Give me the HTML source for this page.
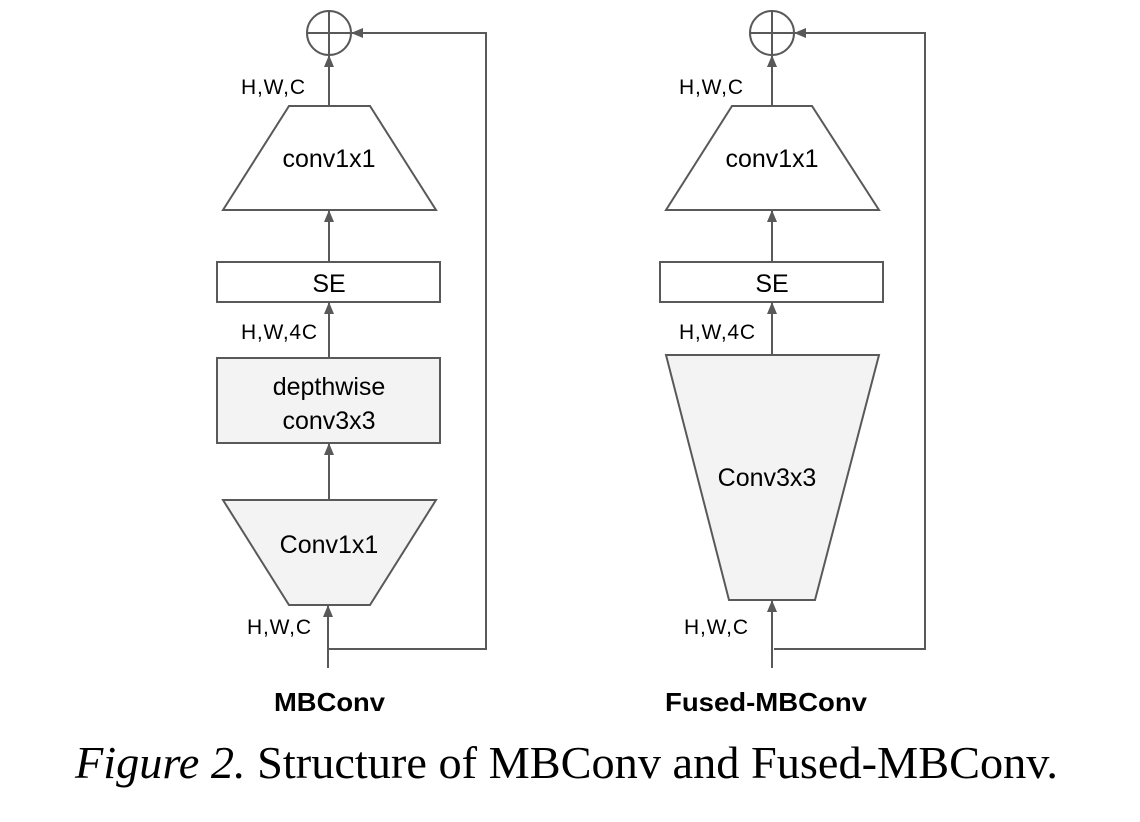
<!DOCTYPE html>
<html><head><meta charset="utf-8"><style>body{margin:0;background:#fff}svg{display:block}</style></head><body>
<svg width="1140" height="822" viewBox="0 0 1140 822" xmlns="http://www.w3.org/2000/svg">
<defs><marker id="a" markerWidth="12" markerHeight="10" refX="11" refY="5" orient="auto" markerUnits="userSpaceOnUse"><path d="M0,0 L12,5 L0,10 z" fill="#595959"/></marker></defs>
<g stroke="#595959" stroke-width="2" fill="none" font-family="Liberation Sans, sans-serif">
<!-- left -->
<circle cx="329" cy="33" r="22" fill="#fff"/>
<line x1="307" y1="33" x2="351" y2="33"/><line x1="329" y1="11" x2="329" y2="55"/>
<polyline points="328,649 486,649 486,33 352,33" marker-end="url(#a)"/>
<line x1="329" y1="106" x2="329" y2="56" marker-end="url(#a)"/>
<polygon points="289,106 370,106 436,210 223,210" fill="#fff"/>
<line x1="329" y1="262" x2="329" y2="211" marker-end="url(#a)"/>
<rect x="217" y="262" width="223" height="40" fill="#fff"/>
<line x1="329" y1="358" x2="329" y2="303" marker-end="url(#a)"/>
<rect x="217" y="358" width="223" height="85" fill="#f3f3f3"/>
<line x1="329" y1="500" x2="329" y2="444" marker-end="url(#a)"/>
<polygon points="223,500 436,500 370,605 289,605" fill="#f3f3f3"/>
<line x1="328" y1="668" x2="328" y2="606" marker-end="url(#a)"/>
<!-- right -->
<circle cx="772" cy="33" r="22" fill="#fff"/>
<line x1="750" y1="33" x2="794" y2="33"/><line x1="772" y1="11" x2="772" y2="55"/>
<polyline points="774,649 925,649 925,33 795,33" marker-end="url(#a)"/>
<line x1="772" y1="106" x2="772" y2="56" marker-end="url(#a)"/>
<polygon points="732,106 812,106 879,210 666,210" fill="#fff"/>
<line x1="772" y1="262" x2="772" y2="211" marker-end="url(#a)"/>
<rect x="660" y="262" width="223" height="40" fill="#fff"/>
<line x1="772" y1="355" x2="772" y2="303" marker-end="url(#a)"/>
<polygon points="666,355 879,355 815,600 729,600" fill="#f3f3f3"/>
<line x1="772" y1="668" x2="772" y2="601" marker-end="url(#a)"/>
</g>
<g font-family="Liberation Sans, sans-serif" fill="#000" font-size="25" text-anchor="middle">
<text x="329" y="167">conv1x1</text>
<text x="329" y="292">SE</text>
<text x="329" y="395">depthwise</text>
<text x="329" y="429">conv3x3</text>
<text x="329" y="553">Conv1x1</text>
<text x="772" y="167">conv1x1</text>
<text x="772" y="292">SE</text>
<text x="767" y="486">Conv3x3</text>
</g>
<g font-family="Liberation Sans, sans-serif" fill="#000" font-size="21">
<text x="241" y="94" textLength="64">H,W,C</text>
<text x="241" y="339" textLength="76">H,W,4C</text>
<text x="247" y="634" textLength="64">H,W,C</text>
<text x="679" y="94" textLength="64">H,W,C</text>
<text x="679" y="339" textLength="76">H,W,4C</text>
<text x="684" y="634" textLength="64">H,W,C</text>
</g>
<g font-family="Liberation Sans, sans-serif" font-weight="bold" font-size="26">
<text x="274" y="711" textLength="111" lengthAdjust="spacingAndGlyphs">MBConv</text>
<text x="665" y="711" textLength="202" lengthAdjust="spacingAndGlyphs">Fused-MBConv</text>
</g>
<text x="75" y="778" font-family="Liberation Serif, serif" font-size="46" textLength="983" lengthAdjust="spacingAndGlyphs"><tspan font-style="italic">Figure 2.</tspan> Structure of MBConv and Fused-MBConv.</text>
</svg>
</body></html>
